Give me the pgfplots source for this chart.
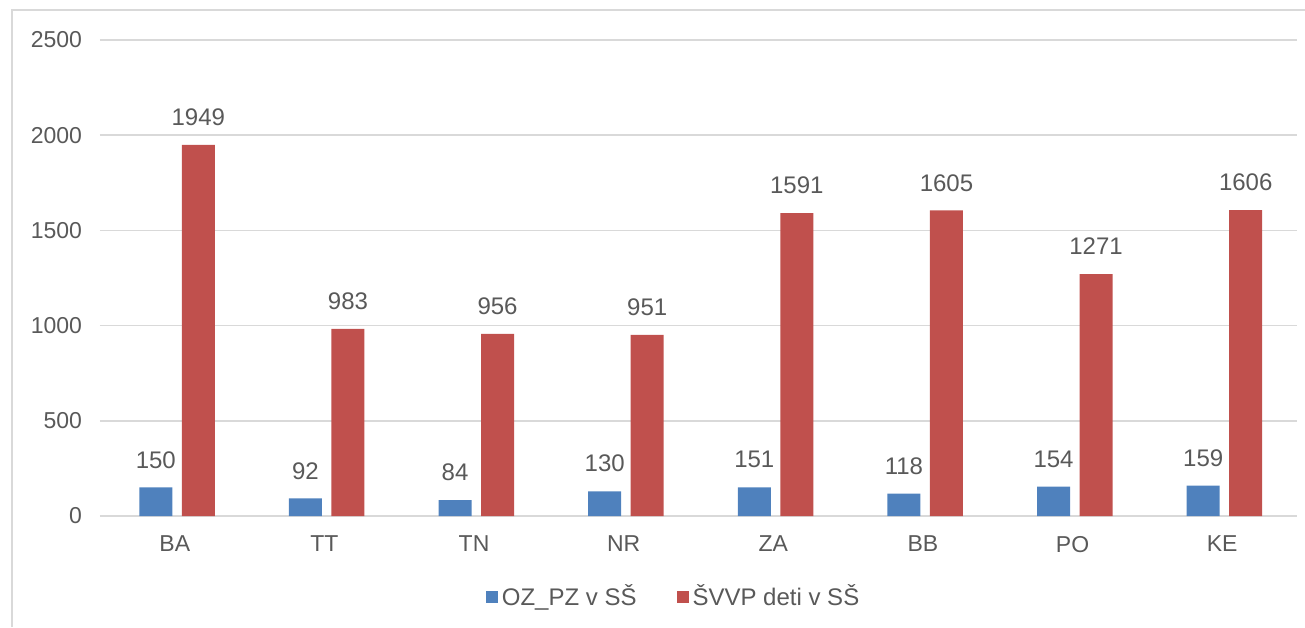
\documentclass[border=0pt]{standalone}
\usepackage{pgfplots}
\pgfplotsset{compat=1.18}
\usepackage{fontspec}
\setmainfont{Liberation Sans}
\definecolor{sblue}{HTML}{4F81BD}
\definecolor{sred}{HTML}{C0504D}
\definecolor{txt}{HTML}{595959}
\definecolor{gridc}{HTML}{D9D9D9}
\begin{document}
\begin{tikzpicture}
% page = 1305x627 px at 0.5pt per px, axis box lower-left at px (100,516)
\useasboundingbox (-50pt,-55.5pt) rectangle (602.5pt,258pt);
\draw[gridc, line width=0.8pt] (-44pt,-55.5pt) -- (-44pt,253pt) -- (602.5pt,253pt);
\begin{axis}[
  at={(0,0)}, anchor=south west,
  scale only axis,
  width=598.5pt, height=238pt,
  ybar, bar width=16.5pt,
  xmin=-0.5, xmax=7.5,
  ymin=0, ymax=2500,
  xtick={0,1,2,3,4,5,6,7},
  xticklabels={BA,TT,TN,NR,ZA,BB,PO,KE},
  ytick={0,500,1000,1500,2000,2500},
  axis x line*=bottom,
  axis y line*=left,
  x axis line style={gridc, line width=0.8pt},
  y axis line style={draw=none},
  ymajorgrids, grid style={gridc, line width=0.8pt},
  major tick length=0pt,
  tick label style={font=\fontsize{11.5pt}{13pt}\selectfont, text=txt},
  /pgf/number format/assume math mode=true,
  /pgf/number format/1000 sep={},
  xticklabel style={yshift=-6.5pt},
  yticklabel style={xshift=-5.5pt},
  nodes near coords,
  every node near coord/.append style={font=\fontsize{12pt}{14pt}\selectfont, text=txt, yshift=6pt},
  legend columns=2,
  legend style={draw=none, at={(0.48,-0.17)}, anchor=center,
    font=\fontsize{12pt}{14pt}\selectfont, text=txt,
    /tikz/every even column/.append style={column sep=18pt}},
  legend image code/.code={\fill[#1] (0pt,-3pt) rectangle (6pt,3pt);},
]
\addplot[fill=sblue, draw=none, bar shift=-9.5pt] coordinates {
(0,150) (1,92) (2,84) (3,130) (4,151) (5,118) (6,154) (7,159)
};
\addplot[fill=sred, draw=none, bar shift=11.75pt] coordinates {
(0,1949) (1,983) (2,956) (3,951) (4,1591) (5,1605) (6,1271) (7,1606)
};
\legend{OZ\_PZ v SŠ, ŠVVP deti v SŠ}
\end{axis}
\end{tikzpicture}
\end{document}
